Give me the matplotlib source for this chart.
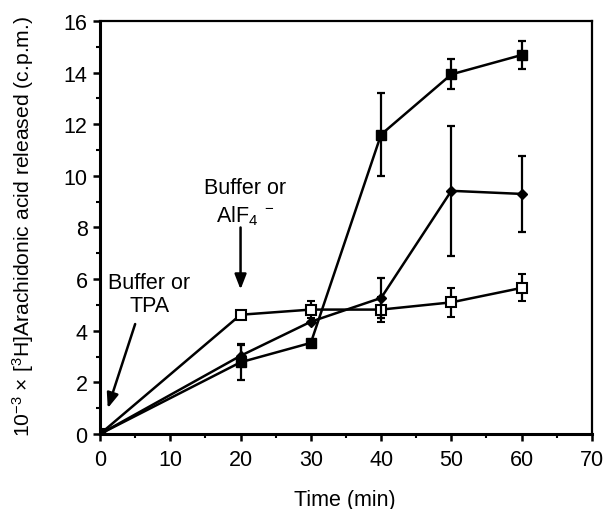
import matplotlib
matplotlib.use("Agg")
import matplotlib.pyplot as plt
from matplotlib.ticker import MultipleLocator

plt.rcParams['font.family'] = ['Liberation Sans', 'DejaVu Sans']
plt.rcParams['mathtext.fontset'] = 'custom'
plt.rcParams['mathtext.rm'] = 'Liberation Sans'
plt.rcParams['mathtext.it'] = 'Liberation Sans'

time = [0, 20, 30, 40, 50, 60]

# AlF4- after TPA (filled squares)
filled_sq = [0, 2.78, 3.53, 11.6, 13.93, 14.68]
filled_sq_err = [0, 0.7, 0, 1.62, 0.58, 0.56]

# TPA then buffer (filled diamonds)
diamond = [0, 3.03, 4.35, 5.27, 9.42, 9.3]
diamond_err = [0, 0.4, 0, 0.78, 2.52, 1.47]

# buffer control (open squares)
open_sq = [0, 4.62, 4.82, 4.82, 5.1, 5.66]
open_sq_err = [0, 0, 0.33, 0.47, 0.56, 0.52]

xticks = [0, 10, 20, 30, 40, 50, 60, 70]
yticks = [0, 2, 4, 6, 8, 10, 12, 14, 16]

fig = plt.figure(figsize=(6.08, 5.10), dpi=100)
ax = fig.add_axes([0.1645, 0.147, 0.809, 0.81])

err_kw = dict(ecolor='black', elinewidth=1.6, capsize=3, capthick=1.6)

ax.errorbar(time, open_sq, yerr=open_sq_err, color='black', lw=1.8,
            marker='s', ms=7, mfc='white', mec='black', mew=1.5, zorder=3, **err_kw)
ax.errorbar(time, diamond, yerr=diamond_err, color='black', lw=1.8,
            marker='D', ms=5.5, mfc='black', mec='black', zorder=4, **err_kw)
ax.errorbar(time, filled_sq, yerr=filled_sq_err, color='black', lw=1.8,
            marker='s', ms=7.5, mfc='black', mec='black', zorder=5, **err_kw)

ax.set_xlim(0, 70)
ax.set_ylim(0, 16)
ax.set_xticks(xticks)
ax.set_yticks(yticks)
ax.xaxis.set_minor_locator(MultipleLocator(5))
ax.yaxis.set_minor_locator(MultipleLocator(1))
ax.tick_params(axis='both', which='major', direction='out', length=5, width=1.8,
               labelsize=15.5)
ax.tick_params(axis='x', which='major', pad=6)
ax.tick_params(axis='y', which='major', pad=4)
ax.tick_params(axis='both', which='minor', direction='out', length=3, width=1.5)
ax.tick_params(top=False, right=False, which='both')

for side in ['left', 'bottom']:
    ax.spines[side].set_linewidth(2.2)
for side in ['top', 'right']:
    ax.spines[side].set_linewidth(1.6)

fig.text(345 / 608, 1 - 501 / 510, 'Time (min)', ha='center', va='center', fontsize=15.5)
fig.text(23 / 608, 1 - 226 / 510,
         '10$^{-3}$ × [$^{3}$H]Arachidonic acid released (c.p.m.)',
         ha='center', va='center', rotation=90, fontsize=15.2)

arrow_kw = dict(arrowstyle='-|>,head_length=0.9,head_width=0.35', color='black', lw=1.8,
                shrinkA=0, shrinkB=0)

ax.annotate('', xy=(20, 5.6), xytext=(20, 8.0), arrowprops=arrow_kw)
ax.text(20.6, 9.0, 'Buffer or\nAlF$_4$$^{\\ -}$', ha='center', va='center',
        fontsize=15.5, linespacing=1.3)

ax.annotate('', xy=(1.1, 1.0), xytext=(5.0, 4.26), arrowprops=arrow_kw)
ax.text(7.0, 5.43, 'Buffer or\nTPA', ha='center', va='center',
        fontsize=15.5, linespacing=1.15)

fig.savefig('out.png', dpi=100)
